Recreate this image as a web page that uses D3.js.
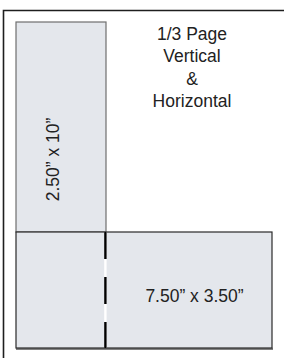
<!DOCTYPE html>
<html lang="en">
  <head>
    <meta charset="UTF-8" />
    <title>1/3 Page Vertical & Horizontal</title>
    <style>
      body {
        margin: 0;
        background: #fff;
      }
      svg text {
        font-family: "Liberation Sans", Arial, sans-serif;
        fill: #222;
      }
    </style>
  </head>
  <body>
    <svg width="284" height="358"></svg>
    <script src="https://d3js.org/d3.v7.min.js"></script>
    <script>
      // page is 7.5" wide and 10" tall, in inches
      var pageWidth = 7.5;
      var pageHeight = 10;
      var titleLines = ["1/3 Page", "Vertical", "&", "Horizontal"];
      var panels = [
        { name: "vertical", x: 0, y: 0, w: 2.5, h: 10, label: "2.50\u201d x 10\u201d" },
        { name: "horizontal", x: 0, y: 6.5, w: 7.5, h: 3.5, label: "7.50\u201d x 3.50\u201d" }
      ];

      // the drawing is not to scale, so both scales are piecewise
      var x = d3.scaleLinear().domain([0, 2.5, pageWidth]).range([16, 106, 272]);
      var y = d3.scaleLinear().domain([0, 6.5, pageHeight]).range([22, 232, 348]);

      var svg = d3.select("svg");

      // outer frame, cut by the picture at right and bottom
      svg.append("path")
        .attr("d", "M3.5,358 L3.5,10.5 L284,10.5")
        .attr("fill", "none")
        .attr("stroke", "#1e1e1e")
        .attr("stroke-width", 1.6);

      var vert = panels[0], hor = panels[1];

      svg.append("rect")
        .attr("x", x(vert.x))
        .attr("y", y(vert.y))
        .attr("width", x(vert.x + vert.w) - x(vert.x))
        .attr("height", y(hor.y) - y(vert.y))
        .attr("fill", "#e4e7ec")
        .attr("stroke", "#6f6f6f")
        .attr("stroke-width", 1.2);

      // bottom shadow of horizontal panel
      svg.append("line")
        .attr("x1", x(hor.x))
        .attr("x2", x(hor.x + hor.w) + 1)
        .attr("y1", y(hor.y + hor.h) + 0.8)
        .attr("y2", y(hor.y + hor.h) + 0.8)
        .attr("stroke", "#808080")
        .attr("stroke-width", 2.2);

      svg.append("rect")
        .attr("x", x(hor.x))
        .attr("y", y(hor.y))
        .attr("width", x(hor.x + hor.w) - x(hor.x))
        .attr("height", y(hor.y + hor.h) - y(hor.y))
        .attr("fill", "#e4e7ec")
        .attr("stroke", "#2a2a2a")
        .attr("stroke-width", 1.2);

      // dashed fold line where the vertical panel ends
      var fx = x(vert.x + vert.w) - 0.6;
      svg.append("line")
        .attr("x1", fx).attr("x2", fx)
        .attr("y1", y(hor.y)).attr("y2", y(hor.y + hor.h))
        .attr("stroke", "#fff")
        .attr("stroke-width", 2.4);
      svg.append("line")
        .attr("x1", fx).attr("x2", fx)
        .attr("y1", y(hor.y)).attr("y2", y(hor.y + hor.h))
        .attr("stroke", "#000")
        .attr("stroke-width", 2.4)
        .attr("stroke-dasharray", "27,18");

      // title
      svg.append("g")
        .selectAll("text")
        .data(titleLines)
        .join("text")
        .attr("x", 192)
        .attr("y", function (d, i) {
          return 40 + i * 22.3;
        })
        .attr("text-anchor", "middle")
        .attr("font-size", "17.5px")
        .text(function (d) {
          return d;
        });

      // size labels
      svg.append("text")
        .attr("transform", "translate(" + 59 + "," + 159.5 + ") rotate(-90)")
        .attr("text-anchor", "middle")
        .attr("font-size", "17.5px")
        .text(vert.label);

      svg.append("text")
        .attr("x", 194.5)
        .attr("y", 301.5)
        .attr("text-anchor", "middle")
        .attr("font-size", "17.5px")
        .text(hor.label);
    </script>
  </body>
</html>
